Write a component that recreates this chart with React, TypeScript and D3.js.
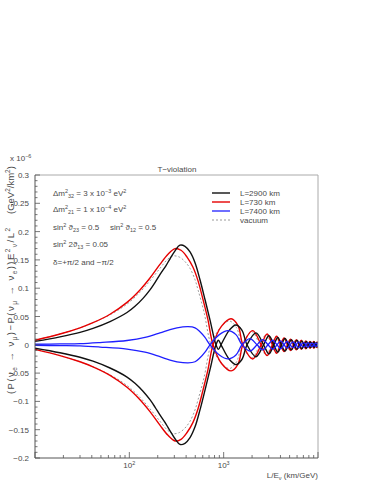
import React, { useEffect, useRef } from 'react';
import * as d3 from 'd3';

// L/E in km/GeV, values in units of 1e-6 GeV^2/km^2 (delta = +pi/2; -pi/2 is the mirror)
const blackLE = [10, 18.4, 30, 41.2, 62.4, 94.5, 114.8, 139.6, 165.5, 187, 211, 245, 270, 305, 344, 389, 440, 497, 561, 634, 716, 829, 880, 937, 1150, 1350, 1560, 1768, 2200, 2650, 3020, 3400, 3750, 4100, 4470, 4850, 5220, 5600, 5990, 6380, 6750, 7120, 7520, 7930, 8330, 8730, 9110, 9500, 9800, 10000];
const blackVal = [0.006, 0.014, 0.022, 0.029, 0.041, 0.057, 0.068, 0.082, 0.097, 0.11, 0.124, 0.14, 0.152, 0.166, 0.176, 0.174, 0.164, 0.145, 0.115, 0.08, 0.044, 0, -0.008, 0, 0.026, 0.035, 0.026, 0, -0.021, 0, 0.016, 0, -0.013, 0, 0.011, 0, -0.009, 0, 0.008, 0, -0.007, 0, 0.006, 0, -0.005, 0, 0.005, 0, -0.004, 0];

const redLE = [10, 18.4, 30, 41.2, 62.4, 94.5, 129.7, 165.5, 211, 257, 305, 353, 409, 473, 535, 604, 682, 771, 950, 1200, 1420, 1600, 2030, 2500, 2890, 3290, 3640, 4000, 4370, 4750, 5120, 5500, 5890, 6290, 6650, 7020, 7430, 7840, 8240, 8640, 9020, 9410, 9800, 10000];
const redVal = [0.008, 0.019, 0.03, 0.039, 0.054, 0.075, 0.097, 0.118, 0.142, 0.16, 0.17, 0.167, 0.155, 0.137, 0.113, 0.08, 0.044, 0, -0.033, -0.046, -0.034, 0, 0.025, 0, -0.019, 0, 0.015, 0, -0.012, 0, 0.01, 0, -0.009, 0, 0.008, 0, -0.007, 0, 0.006, 0, -0.006, 0, 0.005, 0.002];

const blueLE = [10, 18.4, 30, 48.9, 94.5, 146.6, 211, 270, 320, 419, 497, 561, 634, 716, 900, 1110, 1350, 1564, 1900, 2257, 2600, 2952, 3310, 3677, 4020, 4362, 4700, 5043, 5440, 5846, 6220, 6605, 7030, 7464, 7840, 8216, 8640, 9071, 9530, 10000];
const blueVal = [0.001, 0.0015, 0.002, 0.004, 0.0076, 0.013, 0.021, 0.027, 0.03, 0.032, 0.03, 0.023, 0.013, 0, -0.018, -0.025, -0.018, 0, 0.011, 0, -0.009, 0, 0.008, 0, -0.007, 0, 0.006, 0, -0.005, 0, 0.005, 0, -0.004, 0, 0.004, 0, -0.003, 0, 0.003, 0];

const vacLE = [10, 18.4, 30, 41.2, 62.4, 94.5, 129.7, 165.5, 211, 251, 290, 339, 389, 440, 497, 535, 619, 734, 920, 1150, 1370, 1560, 1990, 2420, 2820, 3230, 3590, 3950, 4320, 4700, 5080, 5460, 5850, 6250, 6620, 6990, 7400, 7810, 8210, 8610, 8990, 9380, 9780, 10000];
const vacVal = [0.008, 0.019, 0.03, 0.039, 0.053, 0.072, 0.093, 0.113, 0.135, 0.15, 0.157, 0.155, 0.147, 0.135, 0.115, 0.097, 0.058, 0, -0.03, -0.042, -0.03, 0, 0.023, 0, -0.018, 0, 0.014, 0, -0.011, 0, 0.01, 0, -0.009, 0, 0.008, 0, -0.007, 0, 0.006, 0, -0.005, 0, 0.005, 0.002];

const yTicks = [-0.2, -0.15, -0.1, -0.05, 0, 0.05, 0.1, 0.15, 0.2, 0.25, 0.3];
const yTickLabels = ['\u22120.2', '\u22120.15', '\u22120.1', '\u22120.05', '0', '0.05', '0.1', '0.15', '0.2', '0.25', '0.3'];
const xLabelTicks = [100, 1000];
const xLabelExp = ['2', '3'];
const legendLabels = ['L=2900 km', 'L=730 km', 'L=7400 km', 'vacuum'];

const FONT = '"Liberation Sans", Arial, sans-serif';
const TXT = '#4a4a4a';

type Seg = [string, number?];

// appends text built of normal / superscript (1) / subscript (-1) pieces
function rich(g: any, x: number, y: number, segs: Seg[], size: number, anchor = 'start') {
  const t = g.append('text')
    .attr('x', x).attr('y', y)
    .attr('font-size', size)
    .attr('font-family', FONT)
    .attr('fill', TXT)
    .attr('text-anchor', anchor);
  let cur = 0;
  segs.forEach(([s, k = 0]) => {
    const off = k === 1 ? -size * 0.42 : k === -1 ? size * 0.28 : 0;
    t.append('tspan')
      .attr('dy', off - cur)
      .attr('font-size', k ? size * 0.68 : size)
      .text(s);
    cur = off;
  });
  return t;
}

const App = () => {
  const ref = useRef<SVGSVGElement>(null);

  useEffect(() => {
    const svg = d3.select(ref.current);
    svg.selectAll('*').remove();

    const x = d3.scaleLog().domain([10, 10000]).range([35, 318]);
    const y = d3.scaleLinear().domain([-0.2, 0.3]).range([458, 175]);

    svg.append('defs').append('clipPath').attr('id', 'frame')
      .append('rect').attr('x', 35).attr('y', 175).attr('width', 283).attr('height', 283);

    const line = d3.line<[number, number]>()
      .x(d => x(d[0]))
      .y(d => y(d[1]))
      .curve(d3.curveCatmullRom.alpha(0.5));

    const series = [
      { le: vacLE, val: vacVal, color: '#9a9a9a', w: 1, dash: '2,2' },
      { le: redLE, val: redVal, color: '#e60000', w: 1.4, dash: null },
      { le: blackLE, val: blackVal, color: '#111', w: 1.4, dash: null },
      { le: blueLE, val: blueVal, color: '#1f1fff', w: 1.3, dash: null },
    ];

    const plot = svg.append('g').attr('clip-path', 'url(#frame)');
    series.forEach(s => {
      [1, -1].forEach(sign => {
        const pts = d3.zip(s.le, s.val.map(v => v * sign)) as [number, number][];
        plot.append('path')
          .attr('d', line(pts))
          .attr('fill', 'none')
          .attr('stroke', s.color)
          .attr('stroke-width', s.w)
          .attr('stroke-dasharray', s.dash);
      });
    });

    // frame
    svg.append('path')
      .attr('d', `M35,175H318V458`)
      .attr('fill', 'none').attr('stroke', '#aaa').attr('stroke-width', 1);
    svg.append('path')
      .attr('d', `M35,175V458H318`)
      .attr('fill', 'none').attr('stroke', '#555').attr('stroke-width', 1);

    // y ticks
    const yAx = svg.append('g').attr('stroke', '#555').attr('stroke-width', 0.8);
    d3.range(-20, 31).forEach(i => {
      const v = i / 100;
      const major = i % 5 === 0;
      yAx.append('line')
        .attr('x1', 35).attr('x2', 35 + (major ? 5 : 2.5))
        .attr('y1', y(v)).attr('y2', y(v));
    });
    yTicks.forEach((v, i) => {
      svg.append('text')
        .attr('x', 29).attr('y', y(v) + 3)
        .attr('text-anchor', 'end')
        .attr('font-size', 8).attr('font-family', FONT).attr('fill', TXT)
        .text(yTickLabels[i]);
    });

    // x ticks
    const xAx = svg.append('g').attr('stroke', '#555').attr('stroke-width', 0.8);
    x.ticks().forEach(v => {
      const major = Math.abs(Math.log10(v) - Math.round(Math.log10(v))) < 1e-9;
      xAx.append('line')
        .attr('x1', x(v)).attr('x2', x(v))
        .attr('y1', 458).attr('y2', 458 - (major ? 6 : 3));
    });
    xLabelTicks.forEach((v, i) => {
      rich(svg, x(v), 468, [['10'], [xLabelExp[i], 1]], 8, 'middle');
    });
    rich(svg, 318, 478, [['L/E'], ['\u03bd', -1], [' (km/GeV)']], 8, 'end');

    // multiplier and title
    rich(svg, 10, 161, [['x 10'], ['\u22126', 1]], 8);
    svg.append('text')
      .attr('x', 177).attr('y', 172).attr('text-anchor', 'middle')
      .attr('font-size', 8).attr('font-family', FONT).attr('fill', TXT)
      .text('T\u2212violation');

    // y axis title
    const yt = svg.append('g').attr('transform', 'translate(14,394) rotate(-90)');
    rich(yt, 0, 0, [
      ['(P(\u03bd'], ['e', -1], [' \u2192 \u03bd'], ['\u03bc', -1], [')\u2212P(\u03bd'], ['\u03bc', -1],
      [' \u2192 \u03bd'], ['e', -1], ['))E'], ['2', 1], ['\u03bd', -1], ['/L'], ['2', 1],
    ], 9.5).attr('textLength', 166).attr('lengthAdjust', 'spacing');
    rich(yt, 180, 0, [['(GeV'], ['2', 1], ['/km'], ['2', 1], [')']], 9.5);

    // parameter notes
    rich(svg, 53, 196, [['\u0394m'], ['2', 1], ['32', -1], [' = 3 x 10'], ['\u22123', 1], [' eV'], ['2', 1]], 8);
    rich(svg, 53, 212, [['\u0394m'], ['2', 1], ['21', -1], [' = 1 x 10'], ['\u22124', 1], [' eV'], ['2', 1]], 8);
    rich(svg, 53, 230, [['sin'], ['2', 1], [' \u03d1'], ['23', -1], [' = 0.5']], 8);
    rich(svg, 110, 230, [['sin'], ['2', 1], [' \u03d1'], ['12', -1], [' = 0.5']], 8);
    rich(svg, 53, 247, [['sin'], ['2', 1], [' 2\u03d1'], ['13', -1], [' = 0.05']], 8);
    rich(svg, 53, 265, [['\u03b4=+\u03c0/2 and \u2212\u03c0/2']], 8);

    // legend
    const legendStyles = [series[2], series[1], series[3], series[0]];
    legendLabels.forEach((lab, i) => {
      const ly = 193 + i * 9;
      const s = legendStyles[i];
      svg.append('line')
        .attr('x1', 212).attr('x2', 230).attr('y1', ly).attr('y2', ly)
        .attr('stroke', s.color).attr('stroke-width', s.w)
        .attr('stroke-dasharray', s.dash);
      svg.append('text')
        .attr('x', 240).attr('y', ly + 3)
        .attr('font-size', 8).attr('font-family', FONT).attr('fill', TXT)
        .text(lab);
    });
  }, []);

  return (
    <svg ref={ref} width={382} height={494}
      style={{ position: 'absolute', left: 0, top: 0, background: '#fff' }} />
  );
};

export default App;
